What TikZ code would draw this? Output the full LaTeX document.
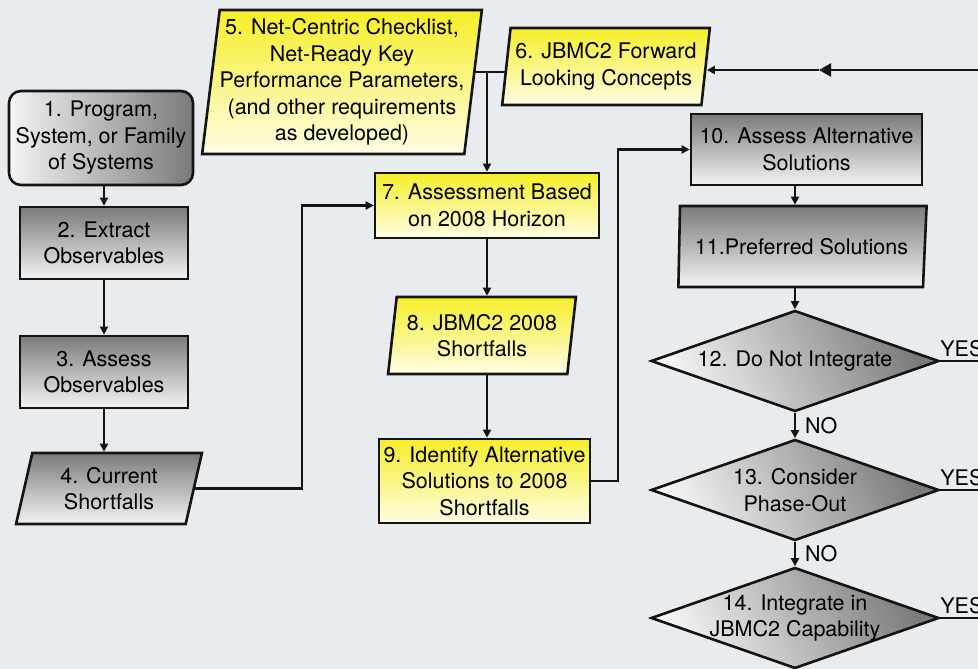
\documentclass[tikz,border=0pt]{standalone}
\usepackage{fontspec}
\setmainfont{TeX Gyre Heros}
\usetikzlibrary{shapes.geometric,arrows.meta,calc}
\definecolor{bgc}{RGB}{232,236,238}
\definecolor{ytop}{RGB}{246,238,40}
\definecolor{ybot}{RGB}{255,253,230}
\definecolor{gdark}{RGB}{122,122,122}
\definecolor{glight}{RGB}{244,244,244}
\definecolor{edge}{RGB}{20,20,20}
\begin{document}
\begin{tikzpicture}[x=1pt,y=-1pt,
  font=\fontsize{21.5}{26.5}\selectfont,
  base/.style={draw=edge, line width=2.6pt, align=center, inner sep=0pt, text=black},
  gfill/.style={top color=gdark, bottom color=glight},
  yfill/.style={top color=ytop, bottom color=ybot},
  para/.style={trapezium, trapezium stretches=true},
  dia/.style={base, diamond, minimum width=288pt, minimum height=101pt, top color=gdark, bottom color=glight, shading angle=-62},
  dtext/.style={align=center, inner sep=0pt, text=black},
  conn/.style={draw=edge, line width=2.2pt},
  arr/.style={conn, -{Triangle[length=8pt,width=8pt]}},
  bigarr/.style={conn, -{Triangle[length=12pt,width=13pt]}},
  lab/.style={inner sep=0pt, text=black}
]
\fill[bgc] (0,0) rectangle (978,669);
\useasboundingbox (0,0) rectangle (978,669);
\clip (0,0) rectangle (978,669);

% left column
\node[base, rectangle, rounded corners=12pt, left color=glight, right color=gdark,
      minimum width=184pt, minimum height=94pt] (n1) at (101,138) {1. Program,\\System, or Family\\of Systems};
\node[base, rectangle, gfill, minimum width=168pt, minimum height=72pt] (n2) at (104,243) {2. Extract\\Observables};
\node[base, rectangle, gfill, minimum width=168pt, minimum height=72pt] (n3) at (104,372) {3. Assess\\Observables};
\node[base, para, gfill, trapezium left angle=76.5, trapezium right angle=103.5,
      minimum width=186pt, minimum height=71pt] (n4) at (109,488.5) {4. Current\\Shortfalls};

% middle column
\node[base, para, yfill, trapezium left angle=82.1, trapezium right angle=97.9,
      minimum width=280pt, minimum height=144pt] (n5) at (342,82) {5. Net-Centric Checklist,\\Net-Ready Key\\Performance Parameters,\\(and other requirements\\as developed)};
\node[base, para, yfill, trapezium left angle=80.4, trapezium right angle=99.6,
      minimum width=208pt, minimum height=77pt] (n6) at (606,66.5) {6. JBMC2 Forward\\Looking Concepts};
\node[base, rectangle, yfill, minimum width=224pt, minimum height=65pt] (n7) at (487,205.5) {7. Assessment Based\\on 2008 Horizon};
\node[base, para, yfill, trapezium left angle=80, trapezium right angle=100,
      minimum width=188pt, minimum height=77pt] (n8) at (482,335.5) {8. JBMC2 2008\\Shortfalls};
\node[base, rectangle, yfill, minimum width=211pt, minimum height=84pt] (n9) at (484.5,481) {9. Identify Alternative\\Solutions to 2008\\Shortfalls};

% right column
\node[base, rectangle, gfill, minimum width=231pt, minimum height=71pt] (n10) at (806.5,149.5) {10. Assess Alternative\\Solutions};
\node[base, para, gfill, trapezium left angle=85, trapezium right angle=101,
      minimum width=249pt, minimum height=81pt] (n11) at (801.5,246.5) {11.Preferred Solutions};
\node[dia] (n12) at (795,361) {};
\node[dia] (n13) at (795,490) {};
\node[dia] (n14) at (795,618) {};
\node[dtext] (t12) at (n12) {12. Do Not Integrate};
\node[dtext] (t13) at (n13) {13. Consider\\Phase-Out};
\node[dtext] (t14) at (n14) {14. Integrate in\\JBMC2 Capability};

% helper coordinates
\coordinate (rx) at (978,0);
\coordinate (k1) at (302,0);
\coordinate (k2) at (618,0);
\coordinate (j) at (487,72);
\coordinate (rin) at (978,70);
\coordinate (rmid) at (819,70);

% connectors
\draw[arr] (n1.south -| n2.north) -- (n2.north);
\draw[arr] (n2.south) -- (n3.north);
\draw[arr] (n3.south) -- (n3.south |- n4.north);
\draw[arr] (n4.east) -- (n4.east -| k1) -- (k1 |- n7.west) -- (n7.west);
\draw[conn] (n5.east |- j) -- (n6.west |- j);
\draw[arr] (j) -- (j |- n7.north);
\draw[bigarr] (rin) -- (rmid);
\draw[arr] (rmid) -- (rmid -| n6.east);
\draw[arr] (n7.south) -- (n7.south |- n8.north);
\draw[arr] (n7.south |- n8.south) -- (n7.south |- n9.north);
\draw[arr] (n9.east) -- (n9.east -| k2) -- (k2 |- n10.west) -- (n10.west);
\draw[arr] (n10.south -| n12.north) -- (n11.north -| n12.north);
\draw[arr] (n11.south -| n12.north) -- (n12.north);
\draw[arr] (n12.south) -- node[lab, anchor=west, xshift=9pt] (no1) {NO} (n13.north);
\draw[arr] (n13.south) -- node[lab, anchor=west, xshift=9pt] (no2) {NO} (n14.north);
\draw[conn] (n12.east) -- node[lab, pos=0, anchor=south west, xshift=-1pt, yshift=3pt] (y1) {YES} (n12.east -| rx);
\draw[conn] (n13.east) -- node[lab, pos=0, anchor=south west, xshift=-1pt, yshift=3pt] (y2) {YES} (n13.east -| rx);
\draw[conn] (n14.east) -- node[lab, pos=0, anchor=south west, xshift=-1pt, yshift=3pt] (y3) {YES} (n14.east -| rx);
\end{tikzpicture}
\end{document}
